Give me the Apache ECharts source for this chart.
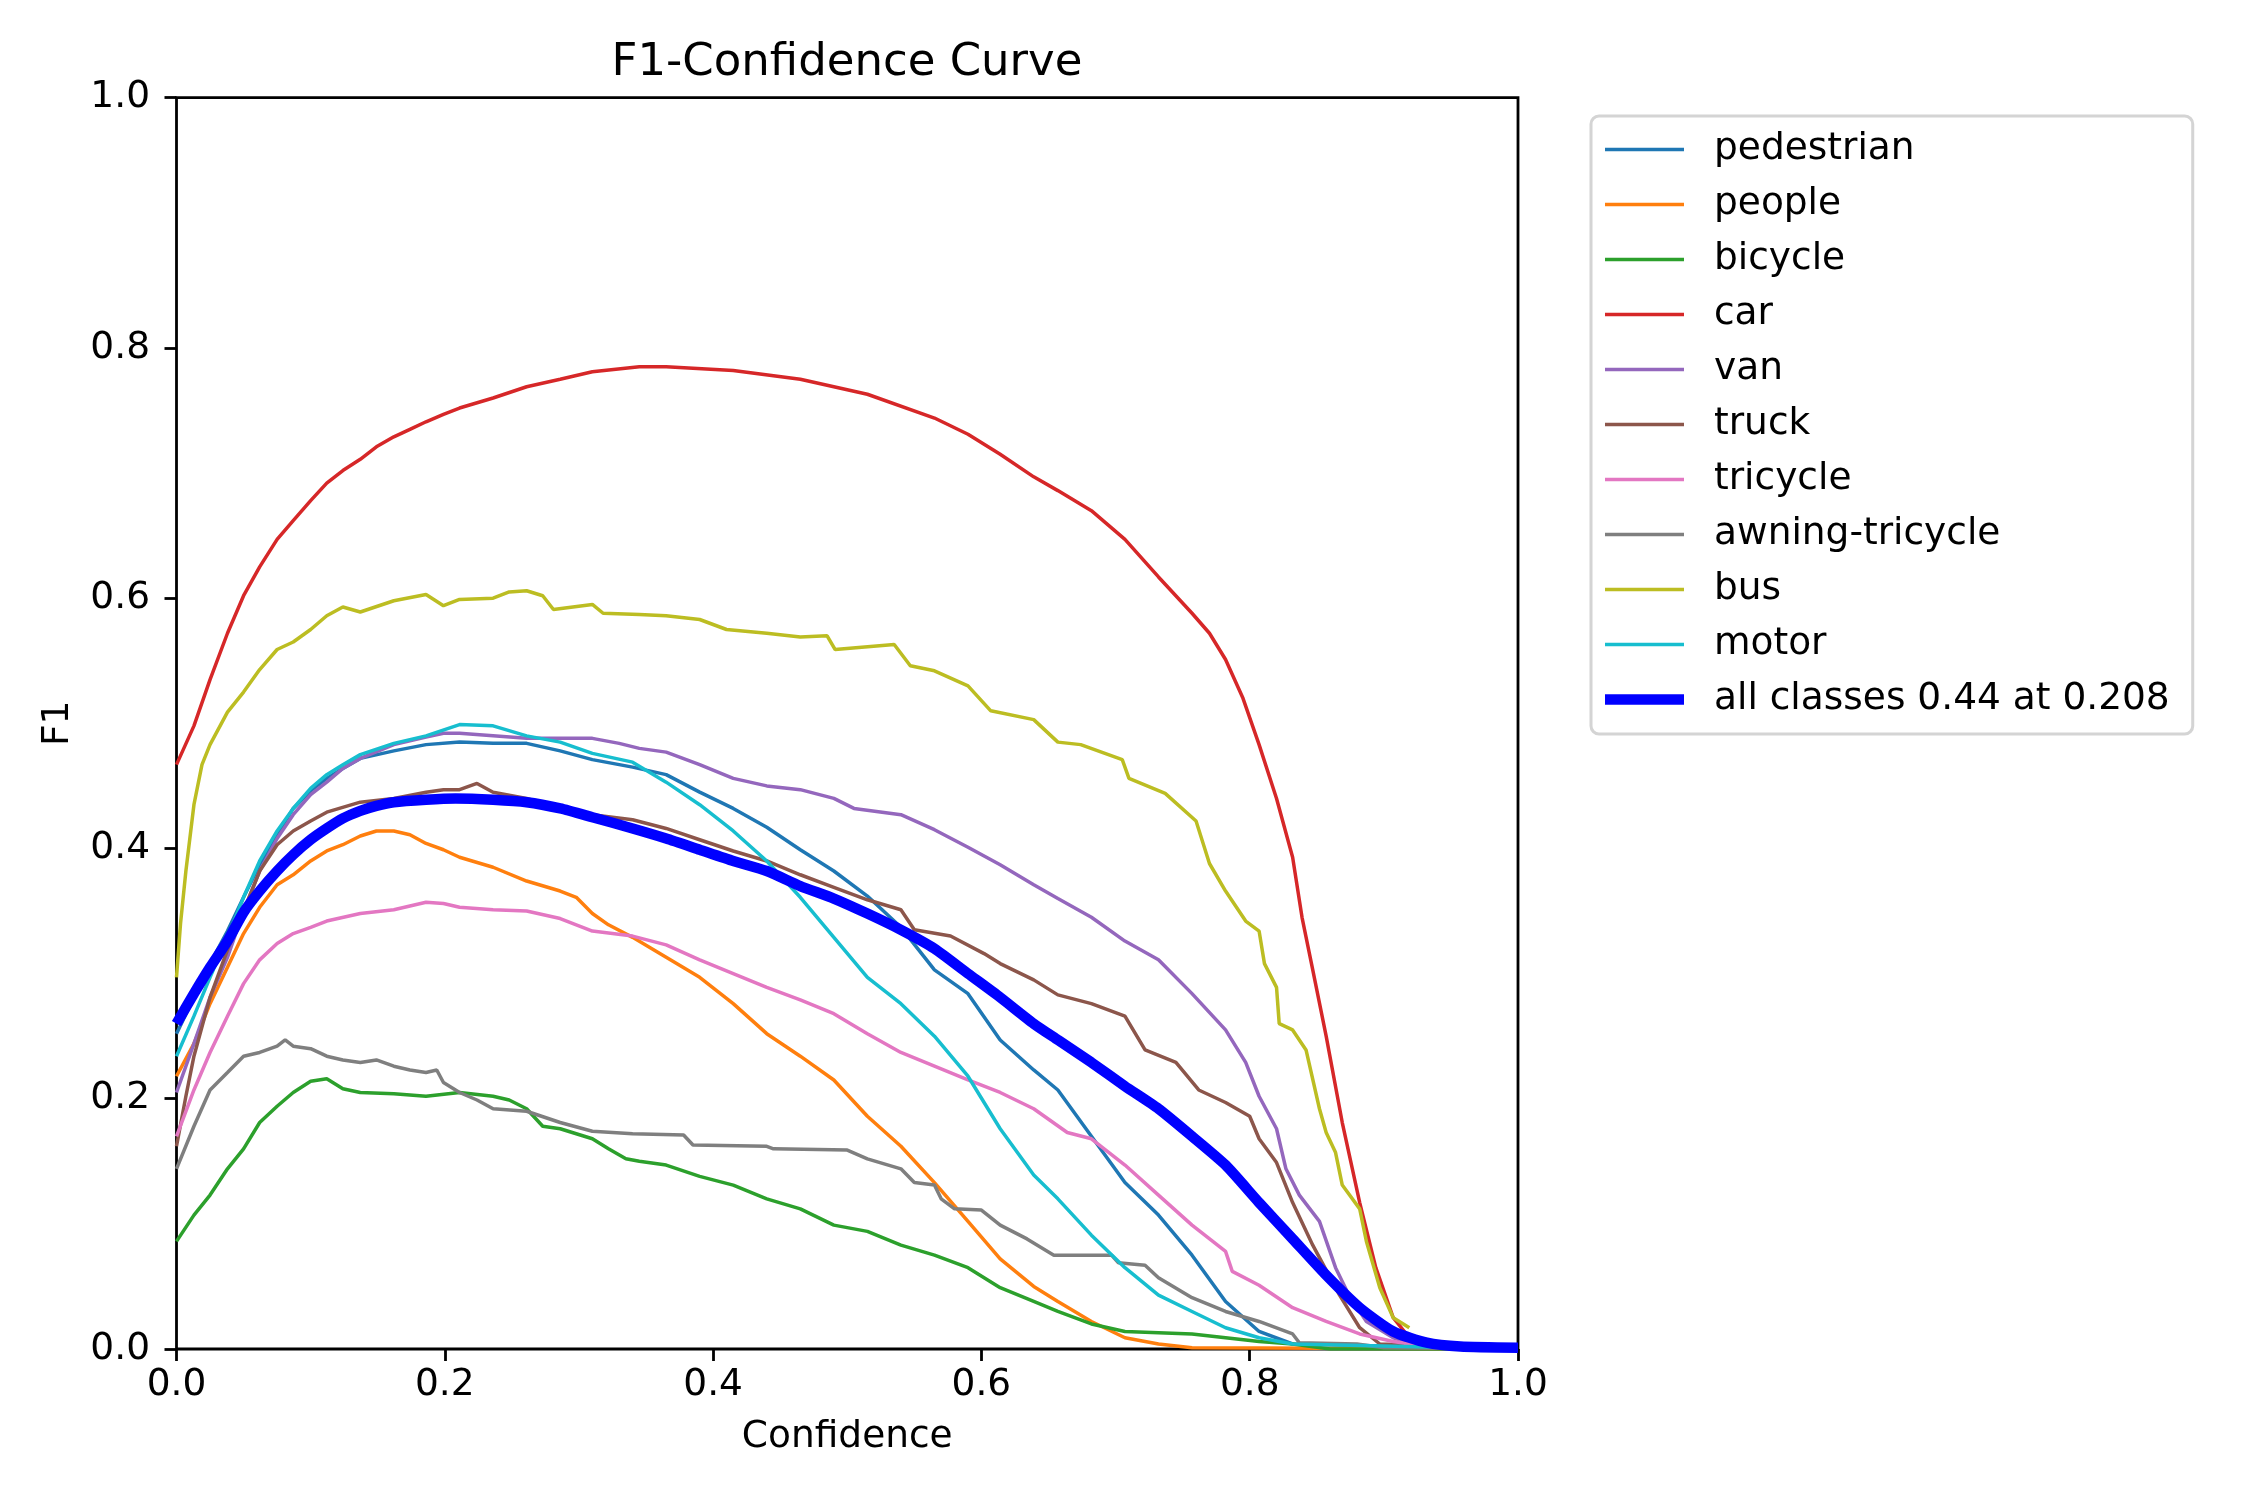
<!DOCTYPE html>
<html>
<head>
<meta charset="utf-8">
<title>F1-Confidence Curve</title>
<script src="https://cdn.jsdelivr.net/npm/echarts@6/dist/echarts.min.js"></script>
<style>
html, body { margin: 0; padding: 0; background: #fff; }
#chart { width: 2250px; height: 1500px; }
</style>
</head>
<body>
<div id="chart"></div>
<script>
// class names, in plotting order
var classNames = ['pedestrian', 'people', 'bicycle', 'car', 'van', 'truck',
    'tricycle', 'awning-tricycle', 'bus', 'motor'];
var meanName = 'all classes 0.44 at 0.208';
var xTicks = [0, 0.2, 0.4, 0.6, 0.8, 1.0];
var yTicks = [0, 0.2, 0.4, 0.6, 0.8, 1.0];

// [confidence, F1]
var pedestrian = [[0,0.252],[0.013,0.281],[0.025,0.308],[0.038,0.334],[0.05,0.361],[0.062,0.387],[0.075,0.411],[0.087,0.432],[0.1,0.446],[0.112,0.456],[0.124,0.464],[0.137,0.472],[0.162,0.478],[0.186,0.483],[0.211,0.485],[0.236,0.484],[0.261,0.484],[0.286,0.478],[0.31,0.471],[0.34,0.465],[0.365,0.459],[0.39,0.445],[0.415,0.432],[0.44,0.417],[0.465,0.399],[0.49,0.382],[0.515,0.362],[0.54,0.337],[0.565,0.303],[0.59,0.284],[0.614,0.247],[0.639,0.223],[0.657,0.207],[0.682,0.17],[0.707,0.133],[0.732,0.107],[0.757,0.075],[0.782,0.038],[0.807,0.014],[0.832,0.004],[1,0]];
var people = [[0,0.218],[0.013,0.244],[0.025,0.276],[0.038,0.305],[0.05,0.332],[0.062,0.353],[0.075,0.371],[0.087,0.379],[0.1,0.39],[0.112,0.398],[0.124,0.403],[0.137,0.41],[0.149,0.414],[0.162,0.414],[0.174,0.411],[0.186,0.404],[0.199,0.399],[0.211,0.393],[0.236,0.385],[0.261,0.374],[0.286,0.366],[0.298,0.361],[0.31,0.348],[0.322,0.339],[0.34,0.329],[0.365,0.313],[0.39,0.297],[0.415,0.276],[0.44,0.252],[0.465,0.234],[0.49,0.215],[0.515,0.186],[0.54,0.162],[0.565,0.133],[0.59,0.102],[0.614,0.072],[0.639,0.05],[0.657,0.038],[0.682,0.022],[0.707,0.009],[0.732,0.004],[0.757,0.001],[1,0]];
var bicycle = [[0,0.086],[0.013,0.107],[0.025,0.123],[0.038,0.144],[0.05,0.16],[0.062,0.181],[0.075,0.194],[0.087,0.205],[0.1,0.214],[0.112,0.216],[0.124,0.208],[0.137,0.205],[0.162,0.204],[0.186,0.202],[0.211,0.205],[0.236,0.202],[0.248,0.199],[0.261,0.192],[0.273,0.178],[0.286,0.176],[0.31,0.168],[0.322,0.16],[0.335,0.152],[0.345,0.15],[0.365,0.147],[0.39,0.138],[0.415,0.131],[0.44,0.12],[0.465,0.112],[0.49,0.099],[0.515,0.094],[0.54,0.083],[0.565,0.075],[0.59,0.065],[0.614,0.049],[0.639,0.038],[0.657,0.03],[0.682,0.02],[0.707,0.014],[0.757,0.012],[0.807,0.006],[0.832,0.004],[0.86,0],[1,0]];
var car = [[0,0.467],[0.013,0.498],[0.025,0.535],[0.038,0.572],[0.05,0.602],[0.062,0.625],[0.075,0.647],[0.087,0.662],[0.1,0.678],[0.112,0.692],[0.124,0.702],[0.137,0.711],[0.149,0.721],[0.162,0.729],[0.174,0.735],[0.186,0.741],[0.199,0.747],[0.211,0.752],[0.236,0.76],[0.261,0.769],[0.286,0.775],[0.31,0.781],[0.345,0.785],[0.365,0.785],[0.415,0.782],[0.465,0.775],[0.515,0.763],[0.565,0.744],[0.59,0.731],[0.614,0.715],[0.639,0.697],[0.657,0.686],[0.682,0.67],[0.707,0.647],[0.732,0.617],[0.757,0.588],[0.77,0.572],[0.782,0.551],[0.795,0.52],[0.807,0.483],[0.82,0.44],[0.832,0.393],[0.839,0.345],[0.847,0.303],[0.857,0.25],[0.869,0.181],[0.882,0.117],[0.894,0.065],[0.907,0.025],[0.919,0.009],[0.95,0.001],[1,0]];
var van = [[0,0.205],[0.013,0.244],[0.025,0.281],[0.038,0.313],[0.05,0.35],[0.062,0.382],[0.075,0.408],[0.087,0.427],[0.1,0.443],[0.112,0.453],[0.124,0.464],[0.137,0.472],[0.162,0.483],[0.186,0.489],[0.199,0.492],[0.211,0.492],[0.236,0.49],[0.261,0.488],[0.286,0.488],[0.31,0.488],[0.33,0.484],[0.345,0.48],[0.365,0.477],[0.39,0.467],[0.415,0.456],[0.44,0.45],[0.465,0.447],[0.49,0.44],[0.505,0.432],[0.54,0.427],[0.565,0.415],[0.59,0.401],[0.614,0.387],[0.639,0.371],[0.657,0.36],[0.682,0.345],[0.707,0.326],[0.732,0.311],[0.757,0.284],[0.782,0.255],[0.797,0.229],[0.807,0.202],[0.82,0.176],[0.827,0.144],[0.837,0.123],[0.852,0.102],[0.864,0.065],[0.874,0.043],[0.887,0.022],[0.907,0.009],[0.922,0.004],[1,0]];
var truck = [[0,0.162],[0.007,0.202],[0.013,0.234],[0.025,0.281],[0.038,0.319],[0.05,0.35],[0.062,0.382],[0.075,0.403],[0.087,0.414],[0.1,0.422],[0.112,0.429],[0.137,0.437],[0.162,0.44],[0.186,0.445],[0.199,0.447],[0.211,0.447],[0.224,0.452],[0.236,0.445],[0.261,0.44],[0.286,0.432],[0.31,0.427],[0.34,0.423],[0.365,0.416],[0.39,0.407],[0.415,0.398],[0.44,0.39],[0.465,0.379],[0.49,0.369],[0.515,0.359],[0.54,0.351],[0.55,0.335],[0.577,0.33],[0.602,0.316],[0.614,0.308],[0.639,0.295],[0.657,0.283],[0.682,0.276],[0.707,0.266],[0.722,0.239],[0.745,0.229],[0.762,0.207],[0.782,0.197],[0.8,0.186],[0.807,0.168],[0.82,0.149],[0.832,0.117],[0.847,0.083],[0.867,0.043],[0.882,0.017],[0.897,0.004],[1,0]];
var tricycle = [[0,0.17],[0.013,0.207],[0.025,0.237],[0.038,0.266],[0.05,0.292],[0.062,0.311],[0.075,0.324],[0.087,0.332],[0.1,0.337],[0.112,0.342],[0.137,0.348],[0.162,0.351],[0.186,0.357],[0.199,0.356],[0.211,0.353],[0.236,0.351],[0.261,0.35],[0.286,0.344],[0.31,0.334],[0.34,0.33],[0.365,0.323],[0.39,0.311],[0.415,0.3],[0.44,0.289],[0.465,0.279],[0.49,0.268],[0.515,0.252],[0.54,0.237],[0.565,0.226],[0.59,0.215],[0.614,0.205],[0.639,0.192],[0.664,0.173],[0.682,0.168],[0.707,0.147],[0.732,0.123],[0.757,0.099],[0.782,0.078],[0.787,0.062],[0.807,0.051],[0.832,0.033],[0.857,0.022],[0.882,0.012],[0.907,0.006],[0.932,0.002],[1,0]];
var awningTricycle = [[0,0.144],[0.013,0.178],[0.025,0.207],[0.038,0.221],[0.05,0.234],[0.062,0.237],[0.075,0.242],[0.081,0.247],[0.087,0.242],[0.1,0.24],[0.112,0.234],[0.124,0.231],[0.137,0.229],[0.149,0.231],[0.162,0.226],[0.174,0.223],[0.186,0.221],[0.194,0.223],[0.199,0.213],[0.211,0.205],[0.224,0.199],[0.236,0.192],[0.261,0.19],[0.286,0.181],[0.31,0.174],[0.34,0.172],[0.378,0.171],[0.385,0.163],[0.44,0.162],[0.445,0.16],[0.5,0.159],[0.515,0.152],[0.54,0.144],[0.55,0.133],[0.565,0.131],[0.57,0.12],[0.58,0.112],[0.6,0.111],[0.614,0.099],[0.634,0.088],[0.654,0.075],[0.697,0.075],[0.702,0.069],[0.722,0.067],[0.732,0.057],[0.757,0.041],[0.782,0.03],[0.807,0.022],[0.832,0.012],[0.837,0.005],[0.88,0.004],[0.9,0.001],[1,0]];
var bus = [[0,0.297],[0.003,0.34],[0.007,0.382],[0.013,0.435],[0.019,0.467],[0.025,0.483],[0.038,0.509],[0.05,0.525],[0.062,0.543],[0.075,0.559],[0.087,0.565],[0.1,0.575],[0.112,0.586],[0.124,0.593],[0.137,0.589],[0.162,0.598],[0.186,0.603],[0.199,0.594],[0.211,0.599],[0.236,0.6],[0.248,0.605],[0.261,0.606],[0.273,0.602],[0.281,0.591],[0.31,0.595],[0.318,0.588],[0.345,0.587],[0.365,0.586],[0.39,0.583],[0.41,0.575],[0.44,0.572],[0.465,0.569],[0.485,0.57],[0.491,0.559],[0.535,0.563],[0.547,0.546],[0.565,0.542],[0.59,0.53],[0.607,0.51],[0.639,0.503],[0.657,0.485],[0.674,0.483],[0.705,0.471],[0.71,0.456],[0.737,0.444],[0.76,0.422],[0.77,0.388],[0.782,0.366],[0.797,0.342],[0.807,0.334],[0.811,0.308],[0.82,0.289],[0.822,0.26],[0.832,0.255],[0.842,0.239],[0.852,0.192],[0.857,0.173],[0.864,0.157],[0.869,0.131],[0.882,0.112],[0.887,0.086],[0.897,0.049],[0.907,0.025],[0.919,0.017]];
var motor = [[0,0.234],[0.013,0.266],[0.025,0.297],[0.038,0.329],[0.05,0.361],[0.062,0.39],[0.075,0.414],[0.087,0.432],[0.1,0.448],[0.112,0.459],[0.124,0.467],[0.137,0.475],[0.162,0.484],[0.186,0.49],[0.211,0.499],[0.236,0.498],[0.261,0.49],[0.286,0.485],[0.31,0.476],[0.34,0.469],[0.365,0.453],[0.39,0.435],[0.415,0.414],[0.44,0.39],[0.465,0.361],[0.49,0.329],[0.515,0.297],[0.54,0.276],[0.565,0.25],[0.59,0.218],[0.614,0.176],[0.639,0.139],[0.657,0.12],[0.682,0.091],[0.707,0.065],[0.732,0.043],[0.757,0.03],[0.782,0.017],[0.807,0.009],[0.832,0.004],[1,0]];
var allClasses = [[0,0.26],[0.013,0.284],[0.025,0.305],[0.038,0.326],[0.05,0.349],[0.062,0.366],[0.075,0.382],[0.087,0.395],[0.1,0.407],[0.112,0.416],[0.124,0.424],[0.137,0.43],[0.149,0.434],[0.162,0.437],[0.186,0.439],[0.208,0.44],[0.236,0.439],[0.261,0.437],[0.286,0.432],[0.31,0.425],[0.34,0.416],[0.365,0.408],[0.39,0.399],[0.415,0.39],[0.44,0.382],[0.465,0.37],[0.49,0.36],[0.515,0.348],[0.54,0.335],[0.565,0.32],[0.59,0.3],[0.614,0.281],[0.639,0.26],[0.657,0.247],[0.682,0.229],[0.707,0.21],[0.732,0.192],[0.757,0.17],[0.782,0.147],[0.807,0.117],[0.832,0.088],[0.857,0.059],[0.882,0.033],[0.907,0.014],[0.932,0.005],[0.957,0.002],[1,0.001]];

var classData = [pedestrian, people, bicycle, car, van, truck, tricycle, awningTricycle, bus, motor];
var classColors = ['#1f77b4', '#ff7f0e', '#2ca02c', '#d62728', '#9467bd', '#8c564b',
    '#e377c2', '#7f7f7f', '#bcbd22', '#17becf'];
var meanColor = '#0000ff';

var font = 'DejaVu Sans';
var chart = echarts.init(document.getElementById('chart'));

var series = classNames.map(function (name, i) {
    return {
        name: name,
        type: 'line',
        data: classData[i],
        symbol: 'none',
        showSymbol: false,
        itemStyle: { color: classColors[i] },
        lineStyle: { color: classColors[i], width: 3.5 },
        emphasis: { disabled: true },
        animation: false
    };
});
series.push({
    name: meanName,
    type: 'line',
    data: allClasses,
    symbol: 'none',
    showSymbol: false,
    smooth: 0.2,
    itemStyle: { color: meanColor },
    lineStyle: { color: meanColor, width: 10.5 },
    emphasis: { disabled: true },
    animation: false
});

var legendData = classNames.map(function (name) {
    return { name: name, icon: 'path://M0,0H79V3.5H0Z' };
});
legendData.push({ name: meanName, icon: 'path://M0,0H79V10.5H0Z' });

function tickText(v) {
    return v.toFixed(1);
}

var option = {
    backgroundColor: '#ffffff',
    animation: false,
    textStyle: { fontFamily: font },
    graphic: [{
        type: 'text',
        x: 847,
        y: 63,
        style: {
            text: 'F1-Confidence Curve',
            fontSize: 45,
            fontFamily: font,
            fill: '#000',
            align: 'center',
            verticalAlign: 'middle'
        }
    }],
    grid: {
        left: 176.5,
        right: 732,
        top: 97.7,
        bottom: 151,
        show: true,
        borderColor: '#000',
        borderWidth: 2.8,
        backgroundColor: 'transparent',
        outerBoundsMode: 'none'
    },
    legend: {
        orient: 'vertical',
        left: 1591,
        top: 116,
        padding: [13.5, 23, 14.5, 14],
        itemWidth: 79,
        itemHeight: 12,
        itemGap: 15,
        selectedMode: false,
        backgroundColor: '#ffffff',
        borderColor: '#d4d4d4',
        borderWidth: 3,
        borderRadius: 8,
        itemStyle: { borderWidth: 0 },
        textStyle: {
            fontSize: 37.5,
            lineHeight: 40,
            color: '#000',
            fontFamily: font,
            padding: [0, 0, 0, 25]
        },
        data: legendData
    },
    xAxis: {
        type: 'value',
        min: xTicks[0],
        max: xTicks[xTicks.length - 1],
        interval: 0.2,
        name: 'Confidence',
        nameLocation: 'middle',
        nameGap: 70,
        nameTextStyle: { fontSize: 37.5, lineHeight: 37.5, color: '#000', fontFamily: font },
        axisLine: { show: false },
        axisTick: { show: true, length: 12, lineStyle: { color: '#000', width: 2.8 } },
        axisLabel: { margin: 18, fontSize: 37.5, lineHeight: 37.5, color: '#000', fontFamily: font, formatter: tickText },
        splitLine: { show: false }
    },
    yAxis: {
        type: 'value',
        min: yTicks[0],
        max: yTicks[yTicks.length - 1],
        interval: 0.2,
        name: 'F1',
        nameLocation: 'middle',
        nameRotate: 90,
        nameGap: 99,
        nameTextStyle: { fontSize: 37.5, lineHeight: 37.5, color: '#000', fontFamily: font },
        axisLine: { show: false },
        axisTick: { show: true, length: 12, lineStyle: { color: '#000', width: 2.8 } },
        axisLabel: { margin: 26.5, fontSize: 37.5, lineHeight: 37.5, color: '#000', fontFamily: font, formatter: tickText },
        splitLine: { show: false }
    },
    series: series
};

chart.setOption(option);
</script>
</body>
</html>
